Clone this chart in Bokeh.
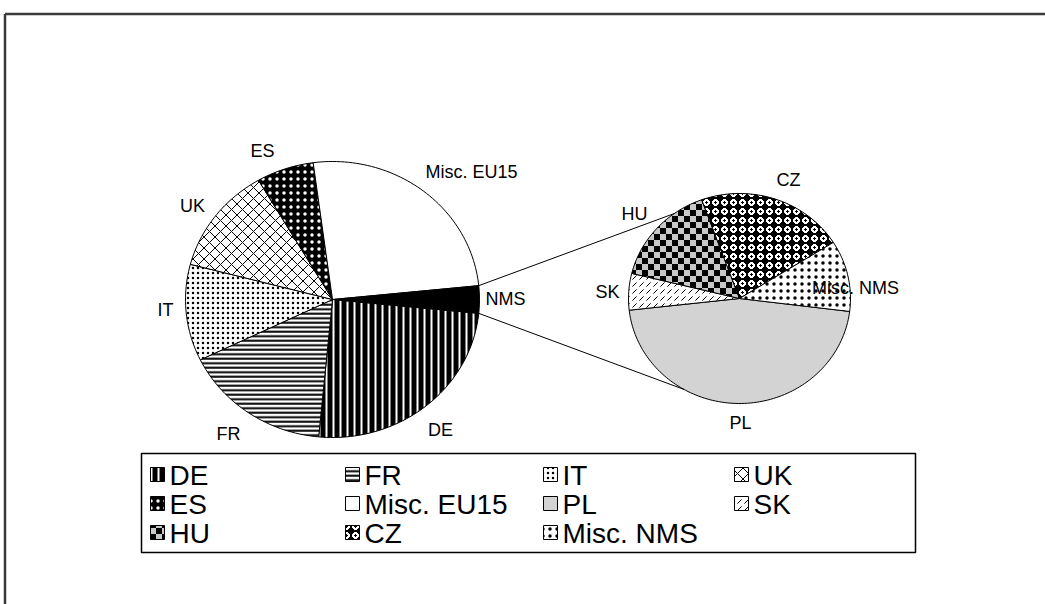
import base64
import struct
import zlib

import numpy as np
from bokeh.plotting import figure
from bokeh.models import Range1d, ImageURLTexture
from bokeh.embed import file_html
from bokeh.resources import INLINE
from bokeh.core.properties import value

# Shares of the main pie (per cent); the "NMS" slice is the sum of the breakdown pie
main_labels = ["DE", "FR", "IT", "UK", "ES", "Misc. EU15"]
main_values = [24.9, 16.3, 11.3, 12.5, 6.3, 25.5]
other_label = "NMS"
nms_labels = ["PL", "SK", "HU", "CZ", "Misc. NMS"]
nms_values = [1.48, 0.18, 0.50, 0.69, 0.35]
legend_labels = main_labels + nms_labels

W, H = 1045, 604
FONT = value("Liberation Sans")

# ---- layout (pixels) ----
MAIN_C, MAIN_R = (332.0, 299.0), (147.0, 138.0)
SUB_C, SUB_R = (739.0, 298.0), (111.0, 105.0)
SUB_START = -7.1              # angle where the first breakdown slice begins
LINK_ANGLES = (126.0, 240.0)  # where the connector lines meet the breakdown pie

label_pos = {
    "ES": (262, 150), "Misc. EU15": (471, 171), "UK": (192, 205), "IT": (165, 309),
    "FR": (228, 433), "DE": (440, 429), "NMS": (505, 298),
    "CZ": (788, 179), "HU": (634, 213), "SK": (607, 291), "Misc. NMS": (855, 287),
    "PL": (740, 422),
}
legend_box = (141, 915, 453, 552)
legend_cols = [157, 352, 550, 741]
legend_rows = [474, 503, 532]
SWATCH = 7  # half size of a legend swatch


def png_uri(rgb):
    """Encode an (h, w, 3) uint8 array as a PNG data URI."""
    h, w, _ = rgb.shape
    raw = b"".join(b"\x00" + rgb[i].tobytes() for i in range(h))

    def chunk(tag, data):
        c = struct.pack(">I", len(data)) + tag + data
        return c + struct.pack(">I", zlib.crc32(tag + data) & 0xFFFFFFFF)

    png = (b"\x89PNG\r\n\x1a\n" + chunk(b"IHDR", struct.pack(">IIBBBBB", w, h, 8, 2, 0, 0, 0))
           + chunk(b"IDAT", zlib.compress(raw)) + chunk(b"IEND", b""))
    return "data:image/png;base64," + base64.b64encode(png).decode()


# checkerboard tile (black / grey)
chk = np.full((12, 12, 3), 200, dtype=np.uint8)
chk[:6, :6] = 0
chk[6:, 6:] = 0
# bubble tile: white discs with a black centre on black
yy, xx = np.mgrid[0:9, 0:9]
d = np.hypot(xx - 4, yy - 4)
bub = np.zeros((9, 9, 3), dtype=np.uint8)
bub[d <= 3.6] = 255
bub[d <= 1.0] = 0
tile_uris = {"checker": png_uri(chk), "bubbles": png_uri(bub)}

styles = {
    "DE": dict(fill_color="black", hatch_pattern="vertical_line", hatch_color="white", hatch_scale=7, hatch_weight=2),
    "FR": dict(fill_color="white", hatch_pattern="horizontal_line", hatch_color="black", hatch_scale=4.5, hatch_weight=2),
    "IT": dict(fill_color="white", hatch_pattern="dot", hatch_color="black", hatch_scale=5, hatch_weight=1),
    "UK": dict(fill_color="white", hatch_pattern="diagonal_cross", hatch_color="black", hatch_scale=11, hatch_weight=1),
    "ES": dict(fill_color="black", hatch_pattern="dot", hatch_color="white", hatch_scale=7, hatch_weight=1.5),
    "Misc. EU15": dict(fill_color="white"),
    "NMS": dict(fill_color="black"),
    "PL": dict(fill_color="#d3d3d3"),
    "SK": dict(fill_color="white", hatch_pattern="right_diagonal_dash", hatch_color="black", hatch_scale=7, hatch_weight=1),
    "HU": dict(fill_color="#c8c8c8", hatch_pattern="checker", hatch_color="black", hatch_scale=12, hatch_weight=1),
    "CZ": dict(fill_color="black", hatch_pattern="bubbles", hatch_color="black", hatch_scale=9, hatch_weight=1),
    "Misc. NMS": dict(fill_color="white", hatch_pattern="dot", hatch_color="black", hatch_scale=7, hatch_weight=1),
}


def style_for(name):
    s = dict(styles[name])
    pat = s.get("hatch_pattern")
    if pat in tile_uris:
        s["hatch_extra"] = {pat: ImageURLTexture(url=tile_uris[pat])}
    return s


def ellipse_point(center, radii, ang):
    a = np.radians(ang)
    return center[0] + radii[0] * np.cos(a), center[1] - radii[1] * np.sin(a)


def slice_shape(center, radii, a0, a1):
    # clockwise from a0 to a1 (a1 < a0)
    n = max(4, int(abs(a0 - a1) / 1.5))
    angs = np.linspace(a0, a1, n)
    xs, ys = ellipse_point(center, radii, angs)
    return [center[0]] + list(xs), [center[1]] + list(ys)


p = figure(width=W, height=H, output_backend="svg", toolbar_location=None,
           x_range=Range1d(0, W), y_range=Range1d(H, 0), min_border=0,
           background_fill_color="white", border_fill_color="white")
p.axis.visible = False
p.grid.visible = False
p.outline_line_color = None

# outer chart frame
p.line([4.5, W], [13.5, 13.5], line_color="#3a3a3a", line_width=2.5)
p.line([4.5, 4.5], [13.5, H], line_color="#3a3a3a", line_width=2.5)

# main pie: the other-slice is centred on the right
nms_total = sum(nms_values)
total = sum(main_values) + nms_total
deg = 360.0 / total
half_other = nms_total * deg / 2
ang = -half_other
for name, v in zip(main_labels, main_values):
    xs, ys = slice_shape(MAIN_C, MAIN_R, ang, ang - v * deg)
    p.patch(xs, ys, line_color="black", line_width=1, **style_for(name))
    ang -= v * deg
xs, ys = slice_shape(MAIN_C, MAIN_R, half_other, -half_other)
p.patch(xs, ys, line_color="black", line_width=1, **style_for(other_label))

# breakdown pie
sub_deg = 360.0 / nms_total
ang = SUB_START
for name, v in zip(nms_labels, nms_values):
    xs, ys = slice_shape(SUB_C, SUB_R, ang, ang - v * sub_deg)
    p.patch(xs, ys, line_color="black", line_width=1, **style_for(name))
    ang -= v * sub_deg

# connector lines
for a_main, a_sub in zip((half_other, -half_other), LINK_ANGLES):
    x0, y0 = ellipse_point(MAIN_C, MAIN_R, a_main)
    x1, y1 = ellipse_point(SUB_C, SUB_R, a_sub)
    p.line([x0, x1], [y0, y1], line_color="black", line_width=1)

# slice labels
names = list(label_pos.keys())
p.text([label_pos[n][0] for n in names], [label_pos[n][1] for n in names], text=names,
       text_font=FONT, text_font_size="18px", text_align="center",
       text_baseline="middle", text_color="black")

# legend
l, r, t, b = legend_box
p.quad(left=[l], right=[r], top=[t], bottom=[b], fill_color=None,
       line_color="black", line_width=1.5)
for i, name in enumerate(legend_labels):
    row, col = divmod(i, 4)
    mx, my = legend_cols[col], legend_rows[row]
    sx = [mx - SWATCH, mx + SWATCH, mx + SWATCH, mx - SWATCH]
    sy = [my - SWATCH, my - SWATCH, my + SWATCH, my + SWATCH]
    p.patch(sx, sy, line_color="black", line_width=1, **style_for(name))
    p.text([mx + 12], [my + 1], text=[name], text_font=FONT, text_font_size="28px",
           text_align="left", text_baseline="middle", text_color="black")

open("out.html", "w").write(file_html(p, INLINE))
